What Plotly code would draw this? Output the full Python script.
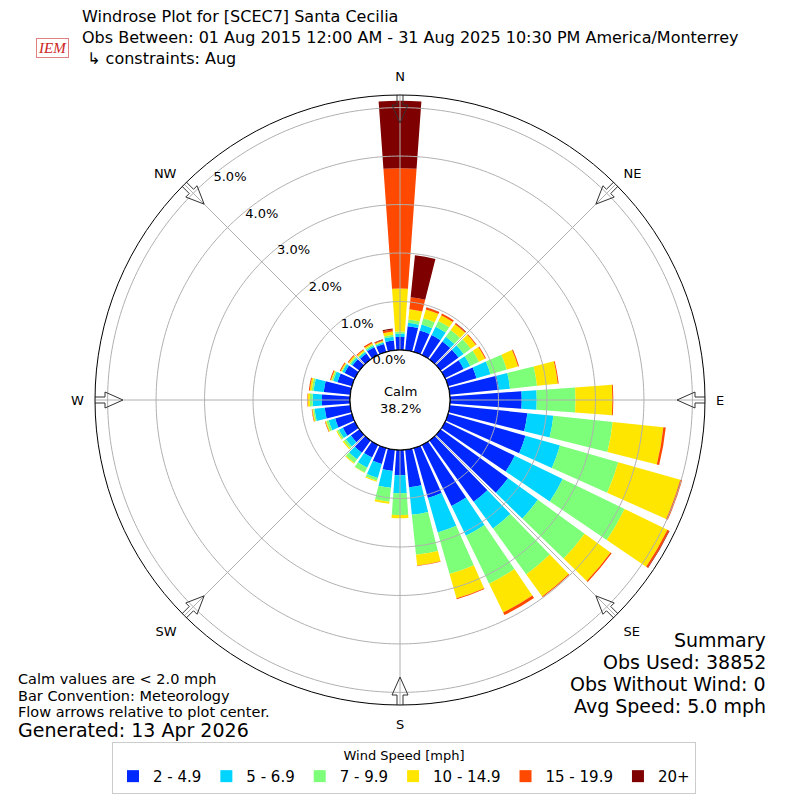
import numpy as np
import plotly.graph_objects as go

# wind directions (deg, meteorological) and percent of obs per speed bin
directions = list(range(0, 360, 10))
bins = ['2 - 4.9', '5 - 6.9', '7 - 9.9', '10 - 14.9', '15 - 19.9', '20+']
colors = ['#0028ff', '#00d4ff', '#7dff7a', '#ffe600', '#ff4800', '#7f0000']

spd_2_5 = [0.27, 0.50, 0.46, 0.46, 0.46, 0.46, 0.43, 0.61, 1.02, 1.48, 1.61, 1.66,
           1.60, 1.72, 1.56, 1.40, 1.07, 0.78, 0.52, 0.44, 0.34, 0.29, 0.31, 0.22,
           0.28, 0.36, 0.53, 0.58, 0.55, 0.31, 0.24, 0.18, 0.15, 0.18, 0.17, 0.20]
spd_5_7 = [0.07, 0.07, 0.13, 0.19, 0.12, 0.13, 0.15, 0.30, 0.23, 0.31, 0.54, 0.74,
           1.10, 0.76, 0.68, 0.68, 0.74, 0.57, 0.37, 0.35, 0.30, 0.23, 0.17, 0.13,
           0.09, 0.14, 0.21, 0.19, 0.21, 0.09, 0.05, 0.04, 0.04, 0.03, 0.03, 0.08]
spd_7_10 = [0.04, 0.07, 0.13, 0.13, 0.17, 0.18, 0.20, 0.35, 0.56, 0.80, 1.23, 1.25,
            1.42, 1.19, 1.17, 1.10, 0.89, 0.83, 0.45, 0.29, 0.06, 0.11, 0.09, 0.05,
            0.04, 0.05, 0.03, 0.06, 0.04, 0.03, 0.02, 0.03, 0.02, 0.03, 0.02, 0.04]
spd_10_15 = [0.89, 0.21, 0.19, 0.13, 0.15, 0.13, 0.14, 0.24, 0.43, 0.76, 1.05, 1.33,
             0.98, 0.66, 0.56, 0.66, 0.52, 0.22, 0.07, 0.04, 0.02, 0.01, 0.02, 0.03,
             0.02, 0.02, 0.02, 0.04, 0.04, 0.02, 0.02, 0.03, 0.03, 0.03, 0.02, 0.07]
spd_15_20 = [2.48, 0.25, 0.04, 0.04, 0.02, 0.02, 0.02, 0.02, 0.02, 0.02, 0.05, 0.04,
             0.04, 0.03, 0.02, 0.06, 0.02, 0.01, 0.00, 0.00, 0.00, 0.00, 0.00, 0.00,
             0.00, 0.01, 0.01, 0.01, 0.02, 0.02, 0.02, 0.02, 0.02, 0.03, 0.02, 0.04]
spd_20 = [1.39, 0.87, 0.01, 0.00, 0.01, 0.00, 0.00, 0.00, 0.00, 0.00, 0.00, 0.00,
          0.01, 0.00, 0.00, 0.00, 0.00, 0.00, 0.00, 0.00, 0.00, 0.00, 0.00, 0.00,
          0.00, 0.00, 0.00, 0.00, 0.00, 0.00, 0.00, 0.00, 0.00, 0.00, 0.01, 0.02]
series = [spd_2_5, spd_5_7, spd_7_10, spd_10_15, spd_15_20, spd_20]

calm_pct = 38.2
compass = ['N', 'NE', 'E', 'SE', 'S', 'SW', 'W', 'NW']
compass_deg = [0, 45, 90, 135, 180, 225, 270, 315]
rticks = [0, 1, 2, 3, 4, 5]

FONT = 'DejaVu Sans'
GRID = '#b0b0b0'
RMAX = 5.26
OUTER_PX = 305.0
HOLE_PX = 50.0
px_per_unit = (OUTER_PX - HOLE_PX) / RMAX

# the page puts the figure 8px in from the top-left corner
OFF = 8
W = 800 - OFF
def px(x):
    return (x - OFF) / W
def py(y):
    return 1 - (y - OFF) / W

fig = go.Figure()

for name, vals, col in zip(bins, series, colors):
    fig.add_trace(go.Barpolar(
        r=vals, theta=directions, width=8.2, name=name,
        marker=dict(color=col, line=dict(width=0)),
        hoverinfo='skip'))

# grid drawn over the bars, like the original
ring = np.linspace(0, 360, 361)
for v in rticks[1:]:
    fig.add_trace(go.Scatterpolar(r=[v] * len(ring), theta=ring, mode='lines',
                                  line=dict(color=GRID, width=1),
                                  showlegend=False, hoverinfo='skip'))
for d in compass_deg:
    fig.add_trace(go.Scatterpolar(r=[0, RMAX], theta=[d, d], mode='lines',
                                  line=dict(color=GRID, width=1),
                                  showlegend=False, hoverinfo='skip'))

# calm circle outline
fig.add_trace(go.Scatterpolar(r=np.zeros(len(ring)), theta=ring, mode='lines',
                              line=dict(color='black', width=1.2),
                              showlegend=False, hoverinfo='skip'))

# hollow flow arrows pointing at the centre
outline = [(306, -3), (306, 3), (295, 3), (295, 8), (277, 0), (295, -8), (295, -3), (306, -3)]
for d in compass_deg:
    rr, tt = [], []
    for along, lat in outline:
        rp = np.hypot(along, lat)
        rr.append((rp - HOLE_PX) / px_per_unit)
        tt.append(d + np.degrees(np.arctan2(lat, along)))
    fig.add_trace(go.Scatterpolar(r=rr, theta=tt, mode='lines', cliponaxis=False,
                                  line=dict(color='#333333', width=1),
                                  showlegend=False, hoverinfo='skip'))

fig.update_layout(
    width=W, height=W,
    margin=dict(l=0, r=0, t=0, b=0),
    paper_bgcolor='white',
    font=dict(family=FONT, color='black', size=13),
    polar=dict(
        domain=dict(x=[px(95), px(705)], y=[py(705), py(95)]),
        hole=HOLE_PX / OUTER_PX,
        bgcolor='white',
        barmode='stack',
        radialaxis=dict(range=[0, RMAX], tickvals=rticks,
                        ticktext=['%.1f%%' % v for v in rticks],
                        angle=131, tickangle=131, showline=False, ticks='',
                        showgrid=False, tickfont=dict(size=13)),
        angularaxis=dict(rotation=90, direction='clockwise',
                         tickvals=compass_deg, ticktext=compass,
                         ticks='outside', ticklen=8, tickcolor='rgba(0,0,0,0)',
                         showline=True, linecolor='black', linewidth=1,
                         showgrid=False, tickfont=dict(size=13)),
    ),
    legend=dict(orientation='h', x=0.5, xanchor='center', y=py(742), yanchor='top',
                title=dict(text='Wind Speed [mph]', side='top center', font=dict(size=13)),
                font=dict(size=15), bordercolor='#cccccc', borderwidth=1,
                itemwidth=30, traceorder='normal'),
)

def txt(x, y, s, size, anchor='left', **kw):
    fig.add_annotation(x=px(x), y=py(y), xref='paper', yref='paper', text=s,
                       showarrow=False, xanchor=anchor, yanchor='middle', align=anchor,
                       font=dict(size=size, family=FONT, **kw))

txt(80, 38, 'Windrose Plot for [SCEC7] Santa Cecilia<br>'
    'Obs Between: 01 Aug 2015 12:00 AM - 31 Aug 2025 10:30 PM America/Monterrey<br>'
    ' ↳ constraints: Aug', 16)

txt(400, 400, 'Calm<br>%.1f%%' % calm_pct, 13, anchor='center')

txt(16, 679, 'Calm values are < 2.0 mph', 14.5)
txt(16, 696, 'Bar Convention: Meteorology', 14.5)
txt(16, 712, 'Flow arrows relative to plot center.', 14.5)
txt(16, 730, 'Generated: 13 Apr 2026', 19)

txt(768, 640, 'Summary', 19, anchor='right')
txt(768, 662, 'Obs Used: 38852', 19, anchor='right')
txt(768, 684, 'Obs Without Wind: 0', 19, anchor='right')
txt(768, 706, 'Avg Speed: 5.0 mph', 19, anchor='right')

# stand-in for the IEM logo
fig.add_annotation(x=px(36), y=py(38), xref='paper', yref='paper', text='<i>IEM</i>',
                   showarrow=False, font=dict(family='Liberation Serif', size=15, color='#cc2222'),
                   bordercolor='#e08080', borderwidth=1, borderpad=1)

fig.write_html('out.html')
